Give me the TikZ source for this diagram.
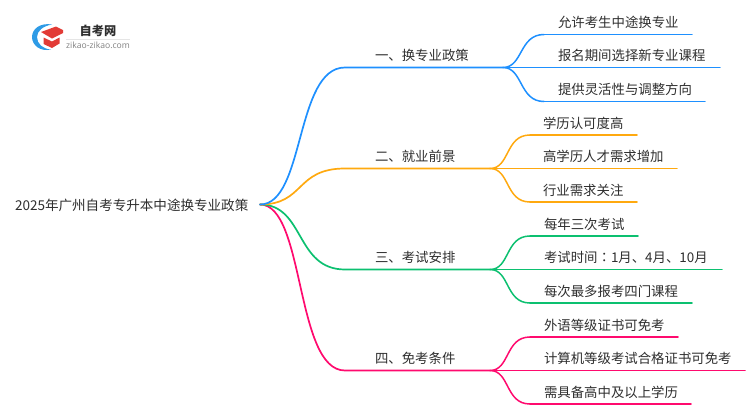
\documentclass[tikz,border=0pt]{standalone}
\usepackage{fontspec}
\setmainfont{Noto Sans CJK SC}
\newfontfamily\latinfont{Open Sans}
\newfontfamily\tcfont{Noto Sans CJK TC}
\definecolor{cblue}{HTML}{1E90FF}
\definecolor{corange}{HTML}{FFA90F}
\definecolor{cgreen}{HTML}{0CC070}
\definecolor{cpink}{HTML}{FF0A6E}
\definecolor{ctext}{HTML}{2E2E2E}
\definecolor{logored}{HTML}{E23B36}
\definecolor{logoblue}{HTML}{2E9BE6}
\tikzset{
  lbl/.style={anchor=base west,inner sep=0pt,outer sep=0pt,text=ctext,font=\fontsize{13.4pt}{15pt}\selectfont},
  link/.style={line width=1.5pt,line cap=round},
  trunk/.style={line width=1.7pt,line cap=round},
}
\newcommand{\limb}[3]{\draw[trunk,#1] (root) .. controls ($(root)+(45,0)$) and ($(#2)+(-50,0)$) .. (#2) -- (#3);}
\newcommand{\twig}[3]{\draw[link,#1] (#2) .. controls ($(#2)+(20,0)$) and ($(#3)+(-25,0)$) .. (#3);}
\usetikzlibrary{calc}
\begin{document}
\begin{tikzpicture}[x=1pt,y=-1pt]
\useasboundingbox (0,0) rectangle (750,410);
% logo
\fill[logoblue] (52,24.5) .. controls (40,22.5) and (32,29) .. (32,37) .. controls (32,45) and (40,52) .. (51,49.5) .. controls (43,49) and (37,44) .. (37,37) .. controls (37,31) and (43,26) .. (52,24.5) -- cycle;
\fill[logored] (41,32) -- (56,26.5) -- (63,30) -- (63,33) -- (52,38.5) -- cycle;
\fill[logored] (43.5,37.5) -- (52,41.5) -- (59.5,37.5) -- (59.5,43.5) -- (52,48) -- (43.5,44) -- cycle;
\node[inner sep=0pt,text=ctext] (brand) at (98,30.5) {\fontsize{12.2pt}{14pt}\selectfont\bfseries 自考网};
\draw[gray!20,line width=.6pt] (66,39.3) -- (130,39.3);
\node[inner sep=0pt,text=gray] (site) at (98,45) {\latinfont\fontsize{8.6pt}{10pt}\selectfont zikao-zikao.com};
% root
\coordinate (root) at (260,204.5);
\node[lbl,font=\fontsize{13.55pt}{15pt}\selectfont] (title) at (15,210) {2025年广州自考专升本中途换专业政策};
% branch points
\coordinate (b1s) at (345,67.5); \coordinate (b1e) at (503,67.5);
\coordinate (b2s) at (345,168.5); \coordinate (b2e) at (490,168.5);
\coordinate (b3s) at (345,269.5); \coordinate (b3e) at (490,269.5);
\coordinate (b4s) at (345,370.5); \coordinate (b4e) at (490,370.5);
\limb{cpink}{b4s}{b4e}
\limb{cgreen}{b3s}{b3e}
\limb{corange}{b2s}{b2e}
\limb{cblue}{b1s}{b1e}
\node[lbl] (b1) at (375,60) {一、换专业政策};
\node[lbl] (b2) at (375,161) {二、就业前景};
\node[lbl] (b3) at (375,262) {三、考试安排};
\node[lbl] (b4) at (375,363) {四、免考条件};
% leaves: branch 1
\coordinate (a1s) at (544,34.5); \coordinate (a1e) at (692,34.5);
\coordinate (a2s) at (544,67.5); \coordinate (a2e) at (720,67.5);
\coordinate (a3s) at (544,101.5); \coordinate (a3e) at (705,101.5);
\foreach \s/\e in {a1s/a1e,a2s/a2e,a3s/a3e}{\twig{cblue}{b1e}{\s} \draw[link,cblue] (\s) -- (\e);}
\node[lbl] (t11) at (558,27) {允许考生中途换专业};
\node[lbl] (t12) at (558,60) {报名期间选择新专业课程};
\node[lbl] (t13) at (558,94) {提供灵活性与调整方向};
% branch 2
\coordinate (c1s) at (530,135); \coordinate (c1e) at (637,135);
\coordinate (c2s) at (530,168.5); \coordinate (c2e) at (677,168.5);
\coordinate (c3s) at (530,202); \coordinate (c3e) at (637,202);
\foreach \s/\e in {c1s/c1e,c2s/c2e,c3s/c3e}{\twig{corange}{b2e}{\s} \draw[link,corange] (\s) -- (\e);}
\node[lbl] (t21) at (543,128) {学历认可度高};
\node[lbl] (t22) at (543,161) {高学历人才需求增加};
\node[lbl] (t23) at (543,195) {行业需求关注};
% branch 3
\coordinate (d1s) at (530,236); \coordinate (d1e) at (638,236);
\coordinate (d2s) at (530,269.5); \coordinate (d2e) at (722,269.5);
\coordinate (d3s) at (530,303); \coordinate (d3e) at (692,303);
\foreach \s/\e in {d1s/d1e,d2s/d2e,d3s/d3e}{\twig{cgreen}{b3e}{\s} \draw[link,cgreen] (\s) -- (\e);}
\node[lbl] (t31) at (544,229) {每年三次考试};
\node[lbl] (t32) at (544,262) {考试时间{\tcfont：}1月、4月、10月};
\node[lbl] (t33) at (544,296) {每次最多报考四门课程};
% branch 4
\coordinate (e1s) at (530,337); \coordinate (e1e) at (678,337);
\coordinate (e2s) at (530,370.5); \coordinate (e2e) at (745,370.5);
\coordinate (e3s) at (530,404); \coordinate (e3e) at (691,404);
\foreach \s/\e in {e1s/e1e,e2s/e2e,e3s/e3e}{\twig{cpink}{b4e}{\s} \draw[link,cpink] (\s) -- (\e);}
\node[lbl] (t41) at (544,330) {外语等级证书可免考};
\node[lbl] (t42) at (544,363) {计算机等级考试合格证书可免考};
\node[lbl] (t43) at (544,397) {需具备高中及以上学历};
\end{tikzpicture}
\end{document}
